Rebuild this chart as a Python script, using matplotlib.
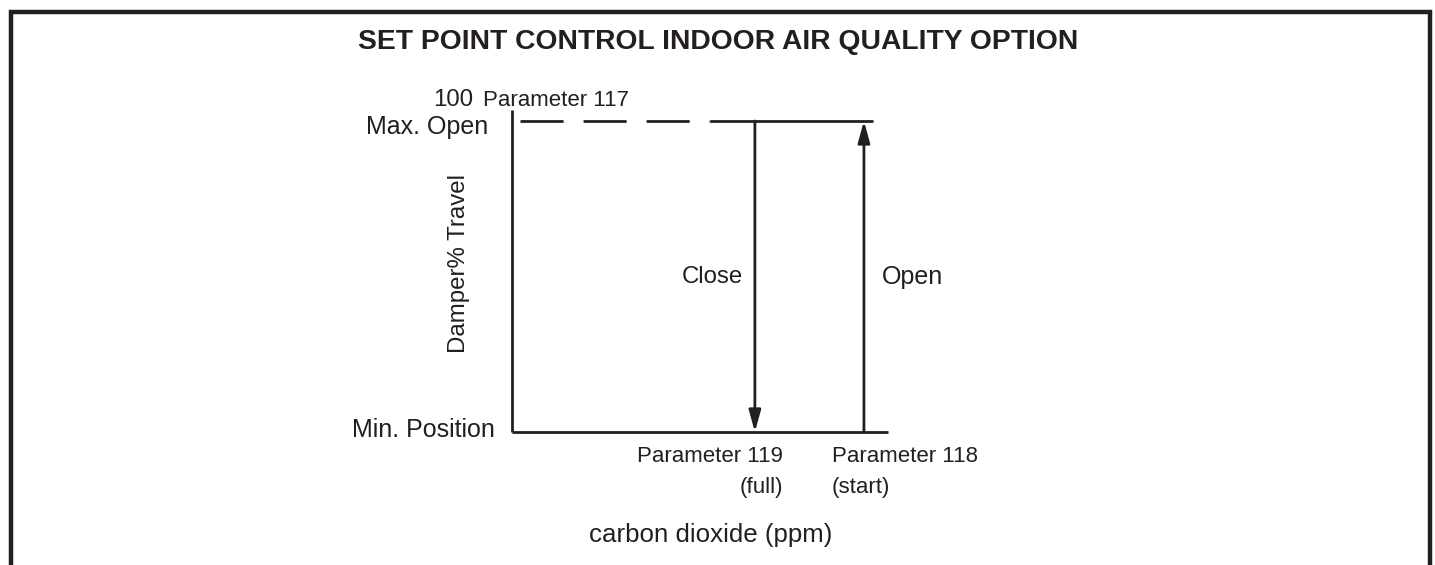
import matplotlib
matplotlib.use("Agg")
import matplotlib.pyplot as plt
from matplotlib.lines import Line2D

plt.rcParams['font.family'] = ['Liberation Sans', 'DejaVu Sans']
plt.rcParams['lines.scale_dashes'] = False

ink = '#231f20'

# Valores del diagrama (x: fraccion del eje de CO2, y: % de recorrido del damper)
damper_min = 0
damper_max = 100
spine_top = 103.5
dash_start = 0.021
solid_start = 0.527
line_end = 0.96
close_x = 0.646   # Parameter 119 (full)
open_x = 0.936    # Parameter 118 (start)

title = 'SET POINT CONTROL INDOOR AIR QUALITY OPTION'
y_labels = ['Max. Open', 'Min. Position']
x_labels = ['Parameter 119\n(full)', 'Parameter 118\n(start)']

fig = plt.figure(figsize=(14.35, 5.65), dpi=100)

# Marco exterior (sin borde inferior)
W, H = 1435, 565
frame_x = [10.5 / W, 10.5 / W, 1429.5 / W, 1429.5 / W]
frame_y = [0, 1 - 11.5 / H, 1 - 11.5 / H, 0]
fig.add_artist(Line2D(frame_x, frame_y, transform=fig.transFigure,
                      color=ink, lw=3.2, solid_joinstyle='miter'))

fig.text(718 / W, 1 - 42 / H, title, ha='center', va='center',
         fontsize=20.3, fontweight='bold', color=ink)

ax = fig.add_axes([512 / W, (H - 432) / H, 376 / W, 311 / H])
ax.set_xlim(0, 1)
ax.set_ylim(damper_min, damper_max)
ax.axis('off')

lw = 2.0
# Ejes dibujados a mano
ax.plot([0, 0], [damper_min, spine_top], color=ink, lw=lw, clip_on=False,
        solid_capstyle='butt')
ax.plot([0, 1], [damper_min, damper_min], color=ink, lw=lw, clip_on=False,
        solid_capstyle='butt')

# Linea superior: discontinua y luego continua
ax.plot([dash_start, solid_start], [damper_max, damper_max], color=ink, lw=lw,
        dashes=(31, 14.4), clip_on=False, solid_capstyle='butt',
        dash_capstyle='butt')
ax.plot([solid_start, line_end], [damper_max, damper_max], color=ink, lw=lw,
        clip_on=False, solid_capstyle='butt')

arrow = dict(arrowstyle='-|>,head_length=0.65,head_width=0.18', color=ink,
             lw=lw, shrinkA=0, shrinkB=0, mutation_scale=20)
ax.annotate('', xy=(close_x, damper_min), xytext=(close_x, damper_max),
            arrowprops=arrow, annotation_clip=False)
ax.annotate('', xy=(open_x, damper_max), xytext=(open_x, damper_min),
            arrowprops=arrow, annotation_clip=False)

fs = 18
ax.text(-0.064, 98.1, y_labels[0], ha='right', va='center', fontsize=fs, color=ink)
ax.text(-0.045, 0.5, y_labels[1], ha='right', va='center', fontsize=fs, color=ink)
ax.text(-0.21, 104.8, '100', ha='left', va='baseline', fontsize=17.3, color=ink)
ax.text(-0.077, 104.8, 'Parameter 117', ha='left', va='baseline', fontsize=16, color=ink)
ax.text(-0.141, 54.3, 'Damper% Travel', ha='center', va='center', rotation=90,
        fontsize=17.3, color=ink)

ax.text(close_x - 0.032, 49.8, 'Close', ha='right', va='center', fontsize=17.3, color=ink)
ax.text(open_x + 0.048, 49.8, 'Open', ha='left', va='center', fontsize=fs, color=ink)

ax.text(0.721, -4.5, x_labels[0], ha='right', va='top', fontsize=16,
        color=ink, linespacing=1.6, multialignment='right')
ax.text(0.851, -4.5, x_labels[1], ha='left', va='top', fontsize=16,
        color=ink, linespacing=1.6, multialignment='left')
ax.text(0.529, -33.1, 'carbon dioxide (ppm)', ha='center', va='center',
        fontsize=18.6, color=ink)

fig.savefig('out.png', dpi=100)
